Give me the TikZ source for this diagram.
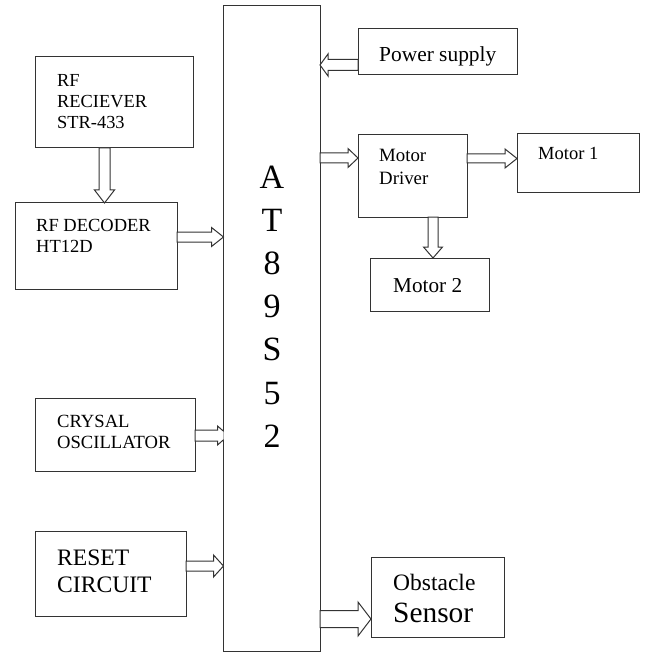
\documentclass[tikz,border=0pt]{standalone}
\usepackage{fontspec}
\setmainfont{Liberation Serif}
\usetikzlibrary{calc}
\newcommand\fsz[2]{\fontsize{#1}{#2}\selectfont}
% block arrow: start, end, shaft half width, head half width, head length
\newcommand\blockarrow[5]{%
  \coordinate (bas) at #1;
  \coordinate (bae) at #2;
  \coordinate (bap) at ($(bae)!#5!(bas)$);
  \draw[blockarr] ($(bas)!#3!90:(bae)$) -- ($(bap)!#3!90:(bae)$) -- ($(bap)!#4!90:(bae)$) -- (bae)
    -- ($(bap)!#4!-90:(bae)$) -- ($(bap)!#3!-90:(bae)$) -- ($(bas)!#3!-90:(bae)$) -- cycle;}
\begin{document}
\begin{tikzpicture}[x=1pt,y=-1pt,
  box/.style={draw=black!80, line width=1pt, rectangle, inner sep=0pt, outer sep=0pt, anchor=north west, fill=white},
  lbl/.style={anchor=base west, align=left, inner sep=0pt, text=black},
  blockarr/.style={draw=black!80, line width=1pt, fill=white, line join=miter}]
\useasboundingbox (0,0) rectangle (648,652);
\fill[white] (0,0) rectangle (648,652);

% boxes
\node[box, minimum width=158pt, minimum height=91pt] (rx) at (35,57) {};
\node[box, minimum width=162pt, minimum height=86pt] (dec) at (15,203) {};
\node[box, minimum width=160pt, minimum height=73pt] (xtal) at (35,398) {};
\node[box, minimum width=151pt, minimum height=85pt] (rst) at (35,531) {};
\node[box, minimum width=96.5pt, minimum height=645pt] (main) at (223.5,6) {};
\node[box, minimum width=159pt, minimum height=46pt] (pwr) at (358,29) {};
\node[box, minimum width=109pt, minimum height=82pt] (drv) at (358,135) {};
\node[box, minimum width=122pt, minimum height=59pt] (m1) at (517,134) {};
\node[box, minimum width=119pt, minimum height=53pt] (m2) at (370,258) {};
\node[box, minimum width=133pt, minimum height=80pt] (obs) at (371,557) {};

% texts (anchor = baseline of the last line)
\node[lbl, font={\fsz{18.4}{21}}] (rx-t) at (57,129) {RF\\RECIEVER\\STR-433};
\node[lbl, font={\fsz{18.5}{21}}] (dec-t) at (36,252) {RF DECODER\\HT12D};
\node[lbl, font={\fsz{18.6}{21}}] (xtal-t) at (57,448) {CRYSAL\\OSCILLATOR};
\node[lbl, font={\fsz{23.6}{27}}] (rst-t) at (57,592) {RESET\\CIRCUIT};
\node[lbl, font={\fsz{21.4}{24}}] (pwr-t) at (379,62) {Power supply};
\node[lbl, font={\fsz{18.8}{23}}] (drv-t) at (379,185) {Motor\\Driver};
\node[lbl, font={\fsz{18.5}{21}}] (m1-t) at (538,160) {Motor 1};
\node[lbl, font={\fsz{21.2}{24}}] (m2-t) at (393,292) {Motor 2};
\node[lbl, font={\fsz{23.5}{26}}] (obs-t1) at (393,590) {Obstacle};
\node[lbl, font={\fsz{29.4}{32}}] (obs-t2) at (393,622) {Sensor};
\node[anchor=base, align=center, inner sep=0pt, font={\fsz{34}{43.2}}] (main-t) at (272,447.2) {A\\T\\8\\9\\S\\5\\2};

% block arrows
\blockarrow{($(rx.south west)+(69.5,0)$)}{($(dec.north west)+(89.5,0)$)}{5.5pt}{10pt}{13pt}
\blockarrow{($(dec.north east)+(0,34)$)}{($(main.north west)+(0,231)$)}{5pt}{9.5pt}{12pt}
\begin{scope}
  \clip (0,0) rectangle (main.south west);
  \blockarrow{($(xtal.north east)+(0,37.5)$)}{($(main.north west)+(5,429.5)$)}{5.5pt}{9.5pt}{11pt}
\end{scope}
\blockarrow{($(rst.north east)+(0,35)$)}{($(main.north west)+(0,560)$)}{5pt}{11pt}{10pt}
\blockarrow{($(main.north east)+(0,613)$)}{($(obs.north west)+(0,62)$)}{8.5pt}{17pt}{13pt}
\blockarrow{($(pwr.north west)+(0,36)$)}{($(main.north east)+(0,59)$)}{5.5pt}{11pt}{8pt}
\blockarrow{($(main.north east)+(0,152)$)}{($(drv.north west)+(0,23)$)}{5pt}{9.5pt}{10pt}
\blockarrow{($(drv.north east)+(0,23.5)$)}{($(m1.north west)+(0,24.5)$)}{4.5pt}{9.5pt}{12pt}
\blockarrow{($(drv.south west)+(75,0)$)}{($(m2.north west)+(63,0)$)}{5pt}{9.5pt}{11pt}
\end{tikzpicture}
\end{document}
